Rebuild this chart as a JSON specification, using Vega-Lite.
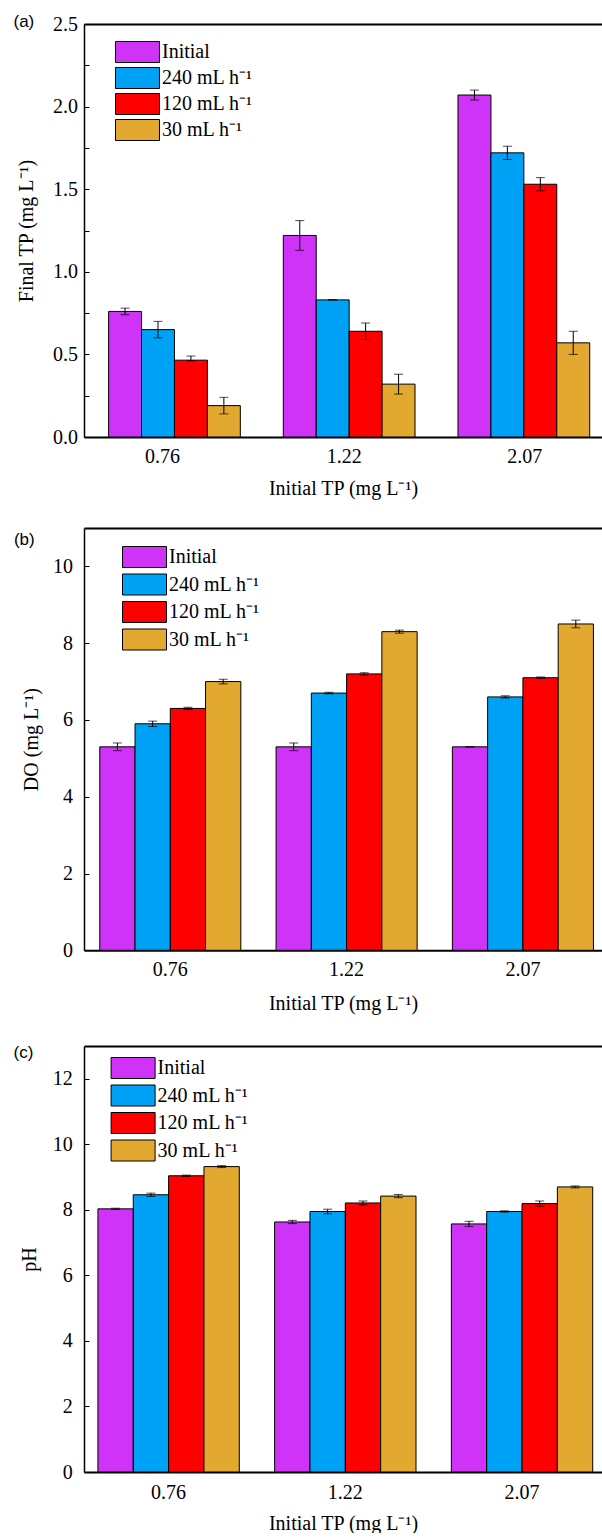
{
  "$schema": "https://vega.github.io/schema/vega-lite/v6.json",
  "background": "white",
  "padding": {"left": 13, "top": 13, "right": 0, "bottom": 0},
  "autosize": {"type": "pad"},
  "spacing": 30,
  "align": "none",
  "bounds": "full",
  "datasets": {
    "tp": [
      {"group": "0.76", "series": "Initial", "value": 0.76, "lo": 0.74, "hi": 0.78},
      {"group": "0.76", "series": "240 mL h⁻¹", "value": 0.65, "lo": 0.60, "hi": 0.70},
      {"group": "0.76", "series": "120 mL h⁻¹", "value": 0.465, "lo": 0.46, "hi": 0.49},
      {"group": "0.76", "series": "30 mL h⁻¹", "value": 0.19, "lo": 0.14, "hi": 0.24},
      {"group": "1.22", "series": "Initial", "value": 1.22, "lo": 1.13, "hi": 1.31},
      {"group": "1.22", "series": "240 mL h⁻¹", "value": 0.83, "lo": 0.83, "hi": 0.83},
      {"group": "1.22", "series": "120 mL h⁻¹", "value": 0.64, "lo": 0.59, "hi": 0.69},
      {"group": "1.22", "series": "30 mL h⁻¹", "value": 0.32, "lo": 0.26, "hi": 0.38},
      {"group": "2.07", "series": "Initial", "value": 2.07, "lo": 2.04, "hi": 2.10},
      {"group": "2.07", "series": "240 mL h⁻¹", "value": 1.72, "lo": 1.68, "hi": 1.76},
      {"group": "2.07", "series": "120 mL h⁻¹", "value": 1.53, "lo": 1.49, "hi": 1.57},
      {"group": "2.07", "series": "30 mL h⁻¹", "value": 0.57, "lo": 0.50, "hi": 0.64}
    ],
    "do": [
      {"group": "0.76", "series": "Initial", "value": 5.3, "lo": 5.2, "hi": 5.4},
      {"group": "0.76", "series": "240 mL h⁻¹", "value": 5.9, "lo": 5.83, "hi": 5.97},
      {"group": "0.76", "series": "120 mL h⁻¹", "value": 6.3, "lo": 6.27, "hi": 6.33},
      {"group": "0.76", "series": "30 mL h⁻¹", "value": 7.0, "lo": 6.94, "hi": 7.06},
      {"group": "1.22", "series": "Initial", "value": 5.3, "lo": 5.2, "hi": 5.4},
      {"group": "1.22", "series": "240 mL h⁻¹", "value": 6.7, "lo": 6.68, "hi": 6.72},
      {"group": "1.22", "series": "120 mL h⁻¹", "value": 7.2, "lo": 7.17, "hi": 7.23},
      {"group": "1.22", "series": "30 mL h⁻¹", "value": 8.3, "lo": 8.26, "hi": 8.34},
      {"group": "2.07", "series": "Initial", "value": 5.3, "lo": 5.3, "hi": 5.3},
      {"group": "2.07", "series": "240 mL h⁻¹", "value": 6.6, "lo": 6.57, "hi": 6.63},
      {"group": "2.07", "series": "120 mL h⁻¹", "value": 7.1, "lo": 7.08, "hi": 7.12},
      {"group": "2.07", "series": "30 mL h⁻¹", "value": 8.5, "lo": 8.4, "hi": 8.6}
    ],
    "ph": [
      {"group": "0.76", "series": "Initial", "value": 8.03, "lo": 8.01, "hi": 8.05},
      {"group": "0.76", "series": "240 mL h⁻¹", "value": 8.46, "lo": 8.41, "hi": 8.51},
      {"group": "0.76", "series": "120 mL h⁻¹", "value": 9.04, "lo": 9.02, "hi": 9.06},
      {"group": "0.76", "series": "30 mL h⁻¹", "value": 9.32, "lo": 9.29, "hi": 9.35},
      {"group": "1.22", "series": "Initial", "value": 7.63, "lo": 7.58, "hi": 7.68},
      {"group": "1.22", "series": "240 mL h⁻¹", "value": 7.95, "lo": 7.88, "hi": 8.02},
      {"group": "1.22", "series": "120 mL h⁻¹", "value": 8.21, "lo": 8.15, "hi": 8.27},
      {"group": "1.22", "series": "30 mL h⁻¹", "value": 8.42, "lo": 8.37, "hi": 8.47},
      {"group": "2.07", "series": "Initial", "value": 7.57, "lo": 7.49, "hi": 7.65},
      {"group": "2.07", "series": "240 mL h⁻¹", "value": 7.95, "lo": 7.93, "hi": 7.97},
      {"group": "2.07", "series": "120 mL h⁻¹", "value": 8.19, "lo": 8.11, "hi": 8.27},
      {"group": "2.07", "series": "30 mL h⁻¹", "value": 8.70, "lo": 8.67, "hi": 8.73}
    ]
  },
  "vconcat": [
    {
      "width": 518,
      "height": 413,
      "title": {"text": "(a)", "anchor": "start", "frame": "bounds", "font": "Liberation Sans", "fontSize": 17, "fontWeight": "normal", "color": "black", "offset": -17, "dx": -3},
      "data": {"name": "tp"},
      "layer": [
        {
          "mark": {"type": "bar", "stroke": "black", "strokeWidth": 1},
          "encoding": {
            "x": {"field": "group", "type": "nominal", "sort": ["0.76", "1.22", "2.07"], "scale": {"paddingInner": 0.246, "paddingOuter": 0.1056, "align": 0.667}, "axis": {"title": "Initial TP (mg L⁻¹)", "labelAngle": 0, "ticks": false, "domainWidth": 2, "labelPadding": 9, "titlePadding": 12, "labelOffset": {"condition": [{"test": "datum.value == '0.76'", "value": -12}, {"test": "datum.value == '1.22'", "value": -5}], "value": 1}}},
            "xOffset": {"field": "series", "type": "nominal", "sort": ["Initial", "240 mL h⁻¹", "120 mL h⁻¹", "30 mL h⁻¹"], "scale": {"paddingInner": 0, "paddingOuter": 0}},
            "y": {"field": "value", "type": "quantitative", "scale": {"domain": [0, 2.5], "nice": false}, "axis": {"title": "Final TP (mg L⁻¹)", "values": [0, 0.25, 0.5, 0.75, 1, 1.25, 1.5, 1.75, 2, 2.25, 2.5], "labelExpr": "round(datum.value*4) % 2 == 0 ? format(datum.value, '.1f') : ''", "tickSize": -5, "labelPadding": 11.5, "titlePadding": 16, "domainWidth": 1.5}},
            "color": {"field": "series", "type": "nominal", "sort": ["Initial", "240 mL h⁻¹", "120 mL h⁻¹", "30 mL h⁻¹"], "scale": {"domain": ["Initial", "240 mL h⁻¹", "120 mL h⁻¹", "30 mL h⁻¹"], "range": ["#CF33F7", "#00A2F5", "#FF0000", "#E2A82F"]}, "legend": {"orient": "none", "legendX": 42.5, "legendY": 17, "rowPadding": 0}}
          }
        },
        {
          "mark": {"type": "rule", "color": "black", "strokeWidth": 1},
          "encoding": {
            "x": {"field": "group", "type": "nominal", "sort": ["0.76", "1.22", "2.07"], "axis": {"orient": "top", "labels": false, "ticks": false, "title": null, "domainWidth": 2}},
            "xOffset": {"field": "series", "type": "nominal", "sort": ["Initial", "240 mL h⁻¹", "120 mL h⁻¹", "30 mL h⁻¹"]},
            "y": {"field": "lo", "type": "quantitative", "scale": {"domain": [0, 2.5], "nice": false}},
            "y2": {"field": "hi"}
          }
        },
        {
          "mark": {"type": "tick", "color": "black", "thickness": 1, "size": 9, "orient": "horizontal"},
          "encoding": {
            "x": {"field": "group", "type": "nominal", "sort": ["0.76", "1.22", "2.07"], "axis": null},
            "xOffset": {"field": "series", "type": "nominal", "sort": ["Initial", "240 mL h⁻¹", "120 mL h⁻¹", "30 mL h⁻¹"]},
            "y": {"field": "lo", "type": "quantitative", "scale": {"domain": [0, 2.5], "nice": false}}
          }
        },
        {
          "mark": {"type": "tick", "color": "black", "thickness": 1, "size": 9, "orient": "horizontal"},
          "encoding": {
            "x": {"field": "group", "type": "nominal", "sort": ["0.76", "1.22", "2.07"], "axis": null},
            "xOffset": {"field": "series", "type": "nominal", "sort": ["Initial", "240 mL h⁻¹", "120 mL h⁻¹", "30 mL h⁻¹"]},
            "y": {"field": "hi", "type": "quantitative", "scale": {"domain": [0, 2.5], "nice": false}}
          }
        }
      ],
      "resolve": {"axis": {"x": "independent"}}
    },
    {
      "width": 518,
      "height": 422.3,
      "title": {"text": "(b)", "anchor": "start", "frame": "bounds", "font": "Liberation Sans", "fontSize": 17, "fontWeight": "normal", "color": "black", "offset": -21, "dx": -7.6},
      "data": {"name": "do"},
      "layer": [
        {
          "mark": {"type": "bar", "stroke": "black", "strokeWidth": 1},
          "encoding": {
            "x": {"field": "group", "type": "nominal", "sort": ["0.76", "1.22", "2.07"], "scale": {"paddingInner": 0.2, "paddingOuter": 0.069, "align": 0.648}, "axis": {"title": "Initial TP (mg L⁻¹)", "labelAngle": 0, "ticks": false, "domainWidth": 2, "labelPadding": 9, "titlePadding": 14}},
            "xOffset": {"field": "series", "type": "nominal", "sort": ["Initial", "240 mL h⁻¹", "120 mL h⁻¹", "30 mL h⁻¹"], "scale": {"paddingInner": 0, "paddingOuter": 0}},
            "y": {"field": "value", "type": "quantitative", "scale": {"domain": [0, 11], "nice": false}, "axis": {"title": "DO (mg L⁻¹)", "values": [0, 1, 2, 3, 4, 5, 6, 7, 8, 9, 10, 11], "labelExpr": "datum.value % 2 == 0 ? format(datum.value, 'd') : ''", "tickSize": -5, "labelPadding": 16.5, "titlePadding": 11, "domainWidth": 1.5}},
            "color": {"field": "series", "type": "nominal", "sort": ["Initial", "240 mL h⁻¹", "120 mL h⁻¹", "30 mL h⁻¹"], "scale": {"domain": ["Initial", "240 mL h⁻¹", "120 mL h⁻¹", "30 mL h⁻¹"], "range": ["#CF33F7", "#00A2F5", "#FF0000", "#E2A82F"]}, "legend": {"orient": "none", "legendX": 49.5, "legendY": 18, "rowPadding": 1.5}}
          }
        },
        {
          "mark": {"type": "rule", "color": "black", "strokeWidth": 1},
          "encoding": {
            "x": {"field": "group", "type": "nominal", "sort": ["0.76", "1.22", "2.07"], "axis": {"orient": "top", "labels": false, "ticks": false, "title": null, "domainWidth": 2}},
            "xOffset": {"field": "series", "type": "nominal", "sort": ["Initial", "240 mL h⁻¹", "120 mL h⁻¹", "30 mL h⁻¹"]},
            "y": {"field": "lo", "type": "quantitative", "scale": {"domain": [0, 11], "nice": false}},
            "y2": {"field": "hi"}
          }
        },
        {
          "mark": {"type": "tick", "color": "black", "thickness": 1, "size": 9, "orient": "horizontal"},
          "encoding": {
            "x": {"field": "group", "type": "nominal", "sort": ["0.76", "1.22", "2.07"], "axis": null},
            "xOffset": {"field": "series", "type": "nominal", "sort": ["Initial", "240 mL h⁻¹", "120 mL h⁻¹", "30 mL h⁻¹"]},
            "y": {"field": "lo", "type": "quantitative", "scale": {"domain": [0, 11], "nice": false}}
          }
        },
        {
          "mark": {"type": "tick", "color": "black", "thickness": 1, "size": 9, "orient": "horizontal"},
          "encoding": {
            "x": {"field": "group", "type": "nominal", "sort": ["0.76", "1.22", "2.07"], "axis": null},
            "xOffset": {"field": "series", "type": "nominal", "sort": ["Initial", "240 mL h⁻¹", "120 mL h⁻¹", "30 mL h⁻¹"]},
            "y": {"field": "hi", "type": "quantitative", "scale": {"domain": [0, 11], "nice": false}}
          }
        }
      ],
      "resolve": {"axis": {"x": "independent"}}
    },
    {
      "width": 518,
      "height": 426,
      "title": {"text": "(c)", "anchor": "start", "frame": "bounds", "font": "Liberation Sans", "fontSize": 17, "fontWeight": "normal", "color": "black", "offset": -16, "dx": -5.6},
      "data": {"name": "ph"},
      "layer": [
        {
          "mark": {"type": "bar", "stroke": "black", "strokeWidth": 1},
          "encoding": {
            "x": {"field": "group", "type": "nominal", "sort": ["0.76", "1.22", "2.07"], "scale": {"paddingInner": 0.2, "paddingOuter": 0.0657, "align": 0.6}, "axis": {"title": "Initial TP (mg L⁻¹)", "labelAngle": 0, "ticks": false, "domainWidth": 2, "labelPadding": 10, "titlePadding": 11}},
            "xOffset": {"field": "series", "type": "nominal", "sort": ["Initial", "240 mL h⁻¹", "120 mL h⁻¹", "30 mL h⁻¹"], "scale": {"paddingInner": 0, "paddingOuter": 0}},
            "y": {"field": "value", "type": "quantitative", "scale": {"domain": [0, 13], "nice": false}, "axis": {"title": "pH", "values": [0, 1, 2, 3, 4, 5, 6, 7, 8, 9, 10, 11, 12, 13], "labelExpr": "datum.value % 2 == 0 ? format(datum.value, 'd') : ''", "tickSize": -5, "labelPadding": 16.8, "titlePadding": 13, "domainWidth": 1.5}},
            "color": {"field": "series", "type": "nominal", "sort": ["Initial", "240 mL h⁻¹", "120 mL h⁻¹", "30 mL h⁻¹"], "scale": {"domain": ["Initial", "240 mL h⁻¹", "120 mL h⁻¹", "30 mL h⁻¹"], "range": ["#CF33F7", "#00A2F5", "#FF0000", "#E2A82F"]}, "legend": {"orient": "none", "legendX": 38.1, "legendY": 11, "rowPadding": 1.5}}
          }
        },
        {
          "mark": {"type": "rule", "color": "black", "strokeWidth": 1},
          "encoding": {
            "x": {"field": "group", "type": "nominal", "sort": ["0.76", "1.22", "2.07"], "axis": {"orient": "top", "labels": false, "ticks": false, "title": null, "domainWidth": 2}},
            "xOffset": {"field": "series", "type": "nominal", "sort": ["Initial", "240 mL h⁻¹", "120 mL h⁻¹", "30 mL h⁻¹"]},
            "y": {"field": "lo", "type": "quantitative", "scale": {"domain": [0, 13], "nice": false}},
            "y2": {"field": "hi"}
          }
        },
        {
          "mark": {"type": "tick", "color": "black", "thickness": 1, "size": 9, "orient": "horizontal"},
          "encoding": {
            "x": {"field": "group", "type": "nominal", "sort": ["0.76", "1.22", "2.07"], "axis": null},
            "xOffset": {"field": "series", "type": "nominal", "sort": ["Initial", "240 mL h⁻¹", "120 mL h⁻¹", "30 mL h⁻¹"]},
            "y": {"field": "lo", "type": "quantitative", "scale": {"domain": [0, 13], "nice": false}}
          }
        },
        {
          "mark": {"type": "tick", "color": "black", "thickness": 1, "size": 9, "orient": "horizontal"},
          "encoding": {
            "x": {"field": "group", "type": "nominal", "sort": ["0.76", "1.22", "2.07"], "axis": null},
            "xOffset": {"field": "series", "type": "nominal", "sort": ["Initial", "240 mL h⁻¹", "120 mL h⁻¹", "30 mL h⁻¹"]},
            "y": {"field": "hi", "type": "quantitative", "scale": {"domain": [0, 13], "nice": false}}
          }
        }
      ],
      "resolve": {"axis": {"x": "independent"}}
    }
  ],
  "resolve": {"scale": {"x": "independent", "y": "independent", "xOffset": "independent", "color": "independent"}, "legend": {"color": "independent"}},
  "config": {
    "view": {"stroke": null},
    "axis": {"labelFont": "Liberation Serif", "titleFont": "Liberation Serif", "labelFontSize": 20, "titleFontSize": 20, "labelColor": "black", "titleColor": "black", "titleFontWeight": "normal", "domainColor": "black", "tickColor": "black", "tickWidth": 1, "grid": false},
    "legend": {"title": null, "symbolType": "M-2.095,-1L2.095,-1L2.095,1L-2.095,1Z", "symbolSize": 441, "symbolStrokeColor": "black", "symbolStrokeWidth": 1, "symbolOpacity": 1, "labelFont": "Liberation Serif", "labelFontSize": 20, "labelColor": "black", "labelOffset": 13.5, "padding": 0}
  }
}
